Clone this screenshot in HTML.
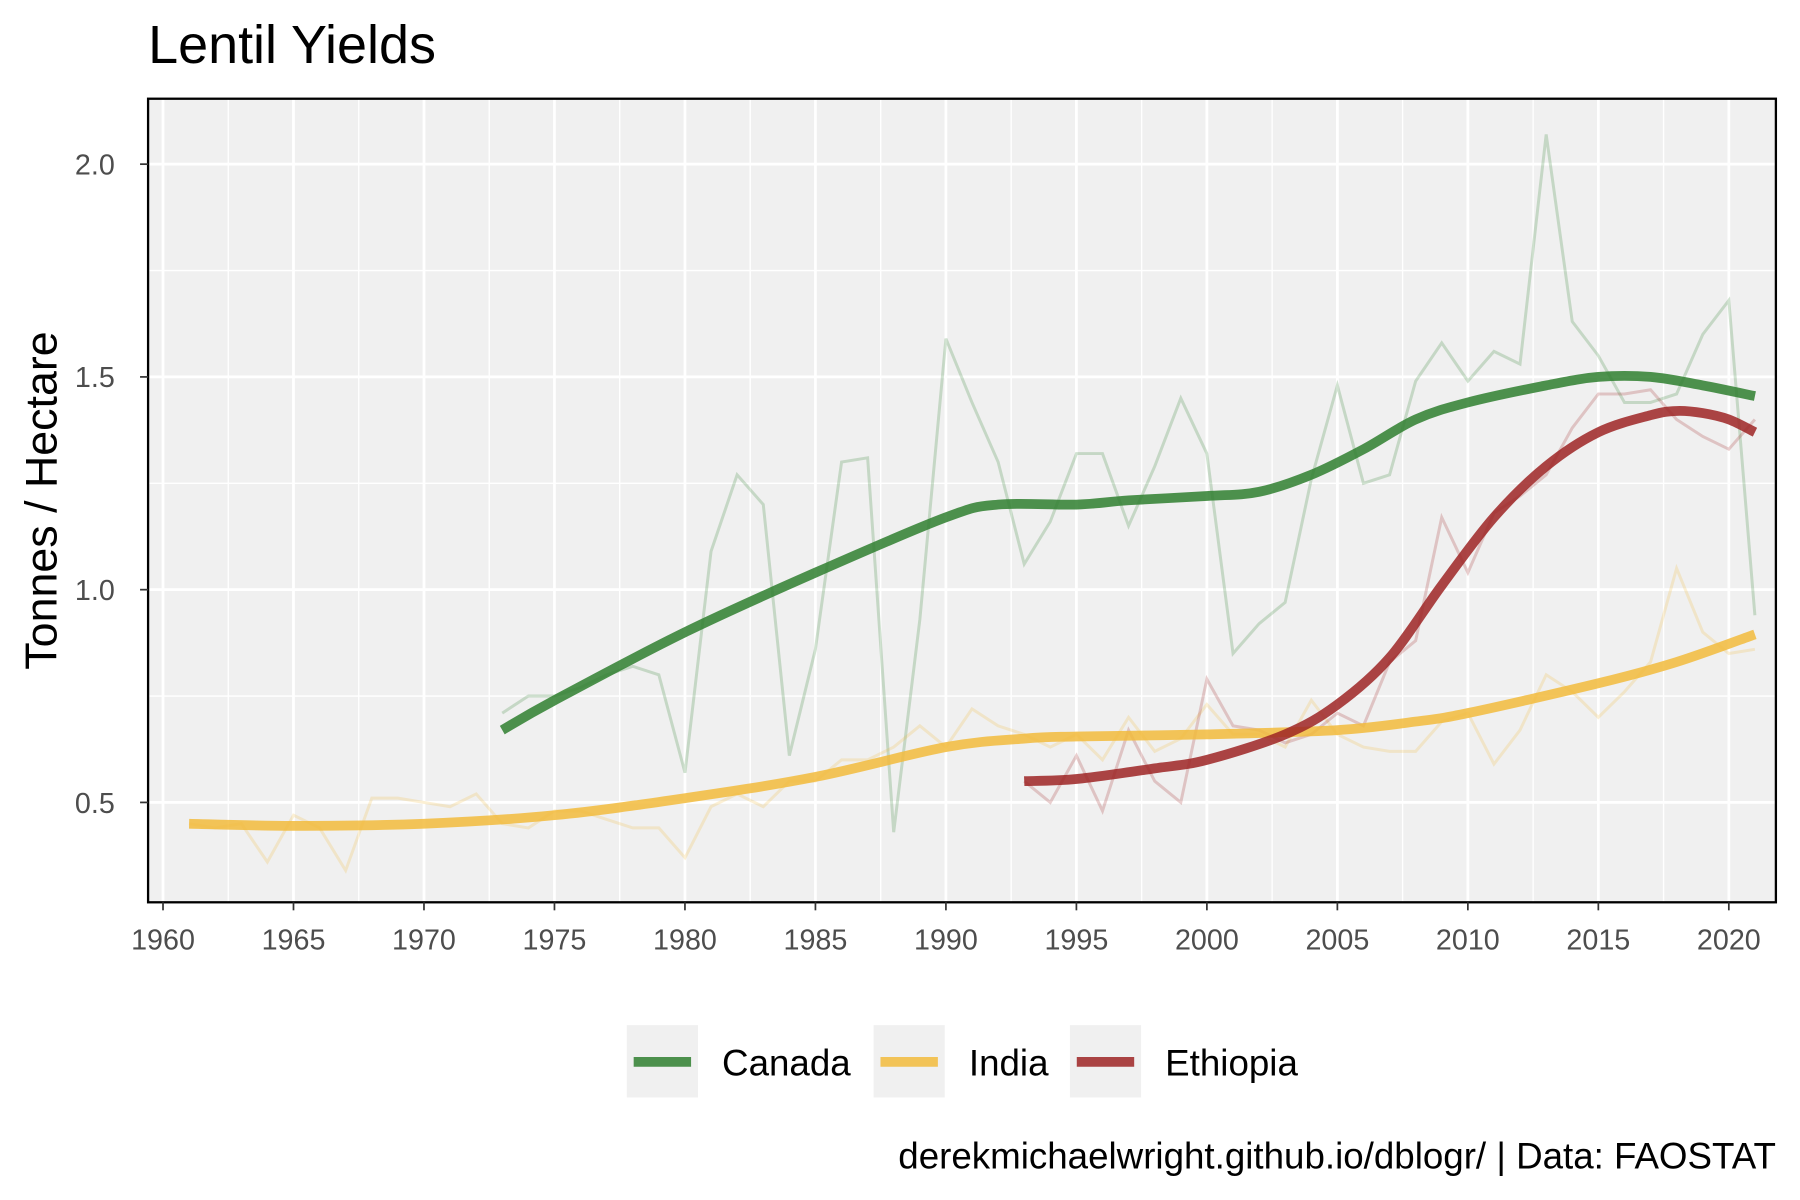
<!DOCTYPE html>
<html><head><meta charset="utf-8"><style>
html,body{margin:0;padding:0;background:#fff}
svg{display:block;font-family:"Liberation Sans",Arial,sans-serif}
</style></head><body>
<svg id="chart" width="1800" height="1200" viewBox="0 0 1568 1045.33" preserveAspectRatio="none" xmlns="http://www.w3.org/2000/svg">
<rect width="1568" height="1046" fill="#fff"/>
<text x="129" y="55" font-size="47" fill="#000">Lentil Yields</text>
<rect x="129" y="86" width="1418" height="700" fill="#f0f0f0"/>
<g id="grid"></g>
<g id="series"></g>
<rect x="129" y="86" width="1418" height="700" fill="none" stroke="#000" stroke-width="2"/>
<g id="axes"></g>
<text transform="translate(49,436) rotate(-90)" text-anchor="middle" font-size="39" fill="#000">Tonnes / Hectare</text>
<g id="legend"></g>
<text x="1547" y="1018" text-anchor="end" font-size="32" fill="#000">derekmichaelwright.github.io/dblogr/ | Data: FAOSTAT</text>
</svg>
<script>
const xTicks=[1960,1965,1970,1975,1980,1985,1990,1995,2000,2005,2010,2015,2020];
const yTicks=[0.5,1.0,1.5,2.0];
const yTickLabels=["0.5","1.0","1.5","2.0"];
const canadaYears=[1973,1974,1975,1976,1977,1978,1979,1980,1981,1982,1983,1984,1985,1986,1987,1988,1989,1990,1991,1992,1993,1994,1995,1996,1997,1998,1999,2000,2001,2002,2003,2004,2005,2006,2007,2008,2009,2010,2011,2012,2013,2014,2015,2016,2017,2018,2019,2020,2021];
const canadaRaw=[0.71,0.75,0.75,0.77,0.80,0.82,0.80,0.57,1.09,1.27,1.20,0.61,0.86,1.30,1.31,0.43,0.93,1.59,1.44,1.30,1.06,1.16,1.32,1.32,1.15,1.29,1.45,1.32,0.85,0.92,0.97,1.26,1.48,1.25,1.27,1.49,1.58,1.49,1.56,1.53,2.07,1.63,1.55,1.44,1.44,1.46,1.60,1.68,0.94];
const canadaSmoothYears=[1973,1975,1980,1985,1990,1992,1995,1997,2000,2002,2004,2006,2008,2010,2013,2015,2017,2019,2021];
const canadaSmooth=[0.67,0.74,0.90,1.04,1.17,1.20,1.20,1.21,1.22,1.23,1.27,1.33,1.40,1.44,1.48,1.50,1.50,1.48,1.455];
const indiaYears=[];for(let y=1961;y<=2021;y++)indiaYears.push(y);
const indiaRaw=[0.45,0.44,0.45,0.36,0.47,0.44,0.34,0.51,0.51,0.50,0.49,0.52,0.45,0.44,0.48,0.48,0.46,0.44,0.44,0.37,0.49,0.52,0.49,0.55,0.55,0.60,0.60,0.63,0.68,0.63,0.72,0.68,0.66,0.63,0.66,0.60,0.70,0.62,0.65,0.73,0.66,0.66,0.63,0.74,0.66,0.63,0.62,0.62,0.69,0.71,0.59,0.67,0.80,0.76,0.70,0.76,0.83,1.05,0.90,0.85,0.86];
const indiaSmoothYears=[1961,1965,1970,1975,1980,1985,1990,1993,1995,2000,2005,2008,2010,2015,2018,2021];
const indiaSmooth=[0.45,0.445,0.45,0.47,0.51,0.56,0.63,0.65,0.655,0.66,0.67,0.69,0.71,0.78,0.83,0.895];
const ethiopiaYears=[];for(let y=1993;y<=2021;y++)ethiopiaYears.push(y);
const ethiopiaRaw=[0.55,0.50,0.61,0.48,0.67,0.55,0.50,0.79,0.68,0.67,0.64,0.66,0.71,0.68,0.83,0.88,1.17,1.04,1.18,1.22,1.27,1.38,1.46,1.46,1.47,1.40,1.36,1.33,1.40];
const ethiopiaSmoothYears=[1993,1995,1998,2000,2003,2005,2007,2009,2011,2013,2015,2017,2018,2019,2020,2021];
const ethiopiaSmooth=[0.55,0.555,0.58,0.60,0.66,0.73,0.84,1.01,1.17,1.29,1.37,1.41,1.42,1.415,1.40,1.37];

const NS="http://www.w3.org/2000/svg";
const X=y=>142+(y-1960)*(1364/60);
const Y=v=>699-(v-0.5)*(556/1.5);
function mk(tag,attrs,parent){const e=document.createElementNS(NS,tag);for(const k in attrs)e.setAttribute(k,attrs[k]);parent.appendChild(e);return e;}
const grid=document.getElementById('grid'),series=document.getElementById('series'),axes=document.getElementById('axes'),legend=document.getElementById('legend');
for(let i=0;i<xTicks.length-1;i++){const m=(xTicks[i]+xTicks[i+1])/2;const l=mk('line',{x1:X(m),x2:X(m),y1:86,y2:786,stroke:'#fff','stroke-width':1.2},grid);
}
for(let i=0;i<yTicks.length-1;i++){const m=(yTicks[i]+yTicks[i+1])/2;const l=mk('line',{x1:129,x2:1547,y1:Y(m),y2:Y(m),stroke:'#fff','stroke-width':1.2},grid);
}
xTicks.forEach(t=>{const l=mk('line',{x1:X(t),x2:X(t),y1:86,y2:786,stroke:'#fff','stroke-width':2.4},grid);

const tk=mk('line',{x1:X(t),x2:X(t),y1:786,y2:793,stroke:'#333','stroke-width':1.5},axes);

const tx=mk('text',{x:X(t),y:827,'text-anchor':'middle','font-size':25,fill:'#4d4d4d'},axes);tx.textContent=t;
});
yTicks.forEach((t,i)=>{const l=mk('line',{x1:129,x2:1547,y1:Y(t),y2:Y(t),stroke:'#fff','stroke-width':2.4},grid);

const tk=mk('line',{x1:122,x2:129,y1:Y(t),y2:Y(t),stroke:'#333','stroke-width':1.5},axes);

const tx=mk('text',{x:100,y:Y(t)+9,'text-anchor':'end','font-size':25,fill:'#4d4d4d'},axes);tx.textContent=yTickLabels[i];
});
function rawPath(ys,vs){return ys.map((y,i)=>(i?'L':'M')+X(y).toFixed(1)+','+Y(vs[i]).toFixed(1)).join('');}
function smoothPath(ys,vs){const p=ys.map((y,i)=>[X(y),Y(vs[i])]);let d='M'+p[0][0]+','+p[0][1];
for(let i=0;i<p.length-1;i++){const p0=p[i-1]||p[i],p1=p[i],p2=p[i+1],p3=p[i+2]||p2;
d+='C'+(p1[0]+(p2[0]-p0[0])/6)+','+(p1[1]+(p2[1]-p0[1])/6)+' '+(p2[0]-(p3[0]-p1[0])/6)+','+(p2[1]-(p3[1]-p1[1])/6)+' '+p2[0]+','+p2[1];}return d;}
const cfg=[["canada",canadaYears,canadaRaw,canadaSmoothYears,canadaSmooth,"#2f7f2f"],
["india",indiaYears,indiaRaw,indiaSmoothYears,indiaSmooth,"#f2bb3c"],
["ethiopia",ethiopiaYears,ethiopiaRaw,ethiopiaSmoothYears,ethiopiaSmooth,"#9e2424"]];
cfg.forEach(c=>{const r=mk('path',{d:rawPath(c[1],c[2]),fill:'none',stroke:c[5],'stroke-opacity':0.22,'stroke-width':2.6},series);
});
cfg.forEach(c=>{const s=mk('path',{d:smoothPath(c[3],c[4]),fill:'none',stroke:c[5],'stroke-opacity':0.85,'stroke-width':8.5},series);
});
const leg=[["Canada",546,"#2f7f2f"],["India",761,"#f2bb3c"],["Ethiopia",932,"#9e2424"]];
leg.forEach(l=>{const g=mk('g',{},legend);
mk('rect',{x:l[1],y:893,width:62,height:63,fill:'#f0f0f0'},g);
mk('line',{x1:l[1]+6,x2:l[1]+56,y1:925,y2:925,stroke:l[2],'stroke-opacity':0.85,'stroke-width':8.5},g);
const t=mk('text',{x:l[1]+83,y:937,'font-size':32,fill:'#000'},g);t.textContent=l[0];});
</script>
</body></html>
